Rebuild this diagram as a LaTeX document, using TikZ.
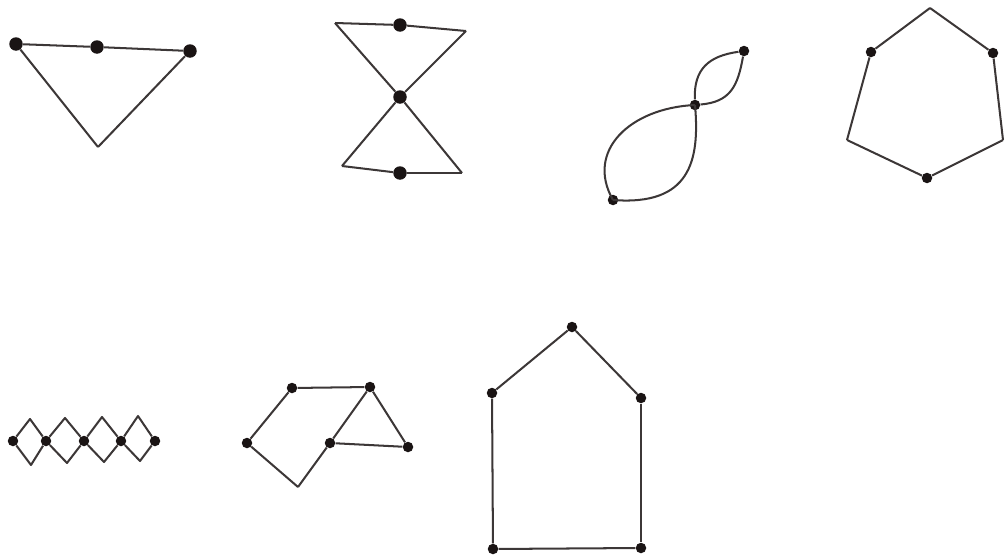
\documentclass[tikz,border=0pt]{standalone}
\usepackage{xcolor}
\usepackage{tikz}
\usetikzlibrary{arrows.meta, positioning}
\definecolor{inkBlack}{HTML}{1A1414}

\begin{document}
\begin{tikzpicture}[
  x=0.02cm, y=0.02cm,
  dot/.style={circle, fill=inkBlack, inner sep=0pt, minimum size=2.1mm},
  bigdot/.style={circle, fill=inkBlack, inner sep=0pt, minimum size=2.7mm},
  edge/.style={draw=inkBlack!85, line width=1.15pt, line join=round}
]
\useasboundingbox (0,0) rectangle (1005,556);

% triangle
\node[bigdot] (a1) at (16,512) {};
\node[bigdot] (a2) at (97,509) {};
\node[bigdot] (a3) at (190,505) {};
\coordinate (a4) at (98,409);
\draw[edge] (a1) -- (a2);
\draw[edge] (a2) -- (a3);
\draw[edge] (a3) -- (a4);
\draw[edge] (a4) -- (a1);

% hourglass
\coordinate (b1) at (335,533);
\node[bigdot] (b2) at (400,531) {};
\coordinate (b3) at (466,525);
\node[bigdot] (b4) at (400,459) {};
\coordinate (b5) at (342,390);
\node[bigdot] (b6) at (400,383) {};
\coordinate (b7) at (462,383);
\draw[edge] (b1) -- (b2);
\draw[edge] (b2) -- (b3);
\draw[edge] (b1) -- (b4);
\draw[edge] (b3) -- (b4);
\draw[edge] (b4) -- (b5);
\draw[edge] (b4) -- (b7);
\draw[edge] (b5) -- (b6);
\draw[edge] (b6) -- (b7);

% two loops
\node[dot] (c1) at (744,505) {};
\node[dot] (c2) at (695,451) {};
\node[dot] (c3) at (613,356) {};
\draw[edge] (c2) to[out=92, in=188, looseness=1.2] (c1);
\draw[edge] (c1) to[out=-100, in=5, looseness=1.2] (c2);
\draw[edge] (c2.center) .. controls (630,448) and (585,405) .. (c3.center);
\draw[edge] (c2.center) .. controls (700,395) and (690,350) .. (c3.center);

% hexagon
\coordinate (d1) at (930,548);
\node[dot] (d2) at (993,503) {};
\coordinate (d3) at (1003,416);
\node[dot] (d4) at (927,378) {};
\coordinate (d5) at (847,416);
\node[dot] (d6) at (871,504) {};
\draw[edge] (d1) -- (d2);
\draw[edge] (d2) -- (d3);
\draw[edge] (d3) -- (d4);
\draw[edge] (d4) -- (d5);
\draw[edge] (d5) -- (d6);
\draw[edge] (d6) -- (d1);

% chain of diamonds
\node[dot] (e0) at (13,115) {};
\node[dot] (e1) at (46,115) {};
\node[dot] (e2) at (84,115) {};
\node[dot] (e3) at (121,115) {};
\node[dot] (e4) at (155,115) {};
\coordinate (t1) at (30,137);
\coordinate (t2) at (65,138);
\coordinate (t3) at (102,139);
\coordinate (t4) at (138,140);
\coordinate (u1) at (31,91);
\coordinate (u2) at (67,93);
\coordinate (u3) at (104,94);
\coordinate (u4) at (140,95);
\draw[edge] (e0) -- (t1) -- (e1) -- (t2) -- (e2) -- (t3) -- (e3) -- (t4) -- (e4);
\draw[edge] (e0) -- (u1) -- (e1) -- (u2) -- (e2) -- (u3) -- (e3) -- (u4) -- (e4);

% quadrilateral with triangle
\node[dot] (f1) at (292,168) {};
\node[dot] (f2) at (370,169) {};
\node[dot] (f3) at (247,113) {};
\node[dot] (f4) at (330,113) {};
\node[dot] (f5) at (408,109) {};
\coordinate (f6) at (298,69);
\draw[edge] (f1) -- (f2);
\draw[edge] (f1) -- (f3);
\draw[edge] (f3) -- (f6);
\draw[edge] (f6) -- (f4);
\draw[edge] (f4) -- (f2);
\draw[edge] (f2) -- (f5);
\draw[edge] (f4) -- (f5);

% house
\node[dot] (g1) at (572,229) {};
\node[dot] (g2) at (492,163) {};
\node[dot] (g3) at (641,158) {};
\node[dot] (g4) at (493,7) {};
\node[dot] (g5) at (641,8) {};
\draw[edge] (g1) -- (g2);
\draw[edge] (g1) -- (g3);
\draw[edge] (g2) -- (g4);
\draw[edge] (g3) -- (g5);
\draw[edge] (g4) -- (g5);
\end{tikzpicture}
\end{document}
